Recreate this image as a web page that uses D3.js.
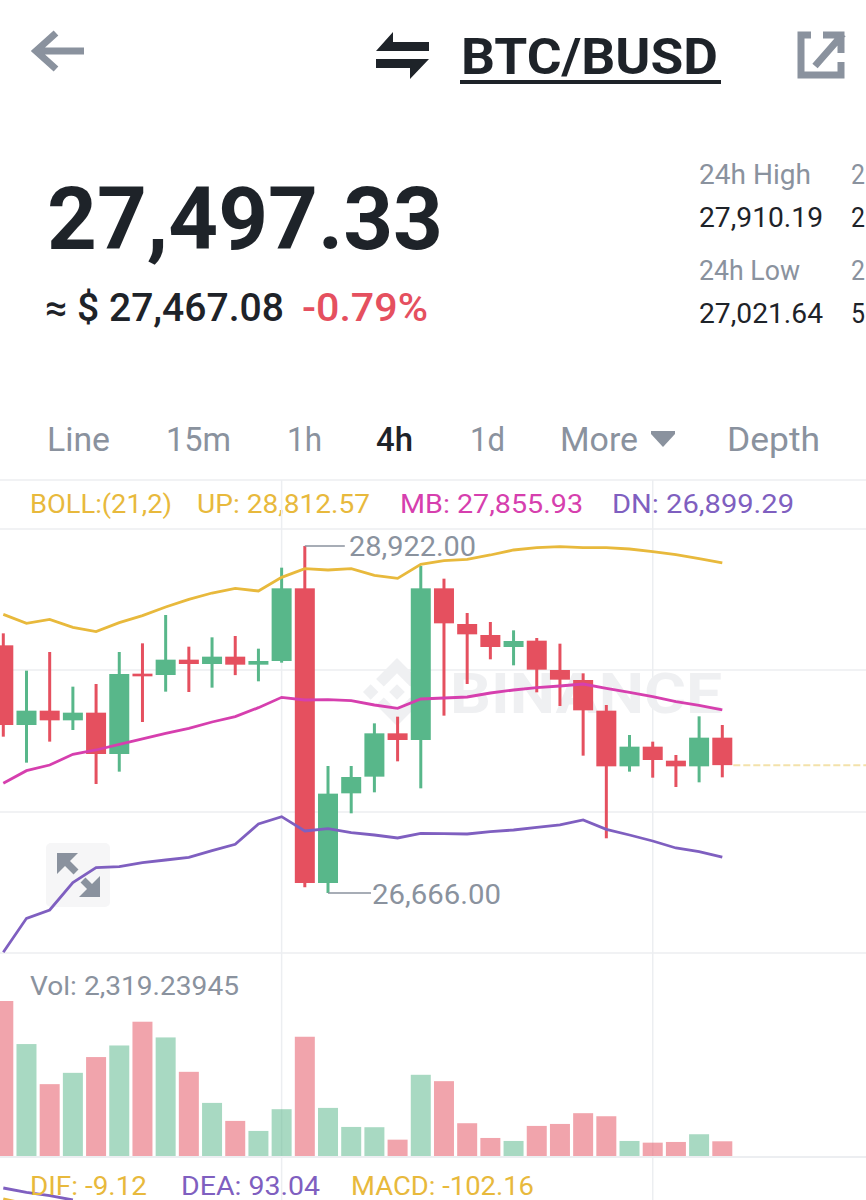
<!DOCTYPE html>
<html>
<head>
<meta charset="utf-8">
<script src="https://cdn.jsdelivr.net/npm/d3@7"></script>
<style>
  html, body { margin: 0; padding: 0; background: #fff; overflow: hidden; }
  text { font-family: Roboto, sans-serif; }
</style>
</head>
<body>
<div id="chart"></div>
<script>
// Candles (oldest first)
const opens = [28276.2, 27758.2, 27851.4, 27788.6, 27838.4, 27569.7, 28092, 28083.3, 28183, 28154.8, 28202.5, 28150.5, 28174.3, 28646.8, 26731, 27314, 27422.4, 27704.1, 27660.8, 28646.8, 28414.9, 28343.4, 28265.4, 28306.5, 28115.8, 28050.8, 27851.4, 27489.5, 27617.4, 27526.3, 27489.5, 27675.9];
const highs = [28354.2, 28111.5, 28232.9, 28007.5, 28024.8, 28232.9, 28289.2, 28473.4, 28267.5, 28328.2, 28336.9, 28254.5, 28781.1, 28922, 27491.7, 27491.7, 27769, 27812.4, 28792, 28709.6, 28486.4, 28427.9, 28373.7, 28323.9, 28287, 28094.2, 27888.3, 27693.3, 27649.9, 27563.2, 27814.6, 27758.2];
const lows = [27682.4, 27513.4, 27650.1, 27725.8, 27374.7, 27454.9, 27777.8, 27975, 27972.8, 28001, 28082.5, 28042.2, 28163.5, 26702.9, 26666, 27184, 27320.5, 27522, 27346.5, 27819, 28024.8, 28185.2, 28146.2, 27970.6, 27881.8, 27558.9, 27021.64, 27454.9, 27415.8, 27355.1, 27385.5, 27418];
const closes = [27758.2, 27851.4, 27788.6, 27838.4, 27569.7, 28089.8, 28074.7, 28183, 28154.8, 28202.5, 28150.5, 28174.3, 28646.8, 26731, 27311.9, 27420.2, 27704.1, 27660.8, 28646.8, 28419.2, 28347.7, 28265.4, 28304.4, 28118, 28053, 27853.6, 27489.5, 27617.4, 27530.7, 27489.5, 27675.9, 27497.33];
const volumes = [23040, 16680, 10760, 12430, 14760, 16470, 19980, 17660, 12580, 7990, 5330, 3850, 7060, 17760, 7250, 4440, 4400, 2560, 12140, 11200, 4990, 2810, 2370, 4590, 4880, 6470, 6020, 2370, 2120, 2220, 3360, 2319.23945];

// Bollinger bands
const bollUp = [28477.7, 28419.2, 28445, 28393.2, 28365, 28423.6, 28469, 28525.4, 28575.3, 28616.4, 28646.8, 28629.4, 28718.3, 28774.6, 28766, 28774.6, 28731.3, 28711.8, 28802.8, 28826.6, 28835.3, 28863.5, 28896, 28911.2, 28917.7, 28911.2, 28911.2, 28902.5, 28885.1, 28865.7, 28839.6, 28812.57];
const bollMid = [27379, 27461.4, 27498.2, 27567.6, 27595.7, 27632.6, 27667.3, 27704.1, 27736.6, 27777.8, 27812.4, 27870.9, 27938.1, 27920.8, 27923, 27916.4, 27888.3, 27866.6, 27927.3, 27933.8, 27940.3, 27966.3, 27985.8, 28001, 28011.8, 28024.8, 27996.7, 27970.6, 27942.5, 27909.9, 27886.1, 27855.93];
const bollDn = [26280.3, 26501.3, 26555.5, 26733.2, 26830.7, 26837.2, 26863.2, 26880.6, 26897.9, 26941.2, 26982.4, 27114.6, 27162.3, 27069.1, 27084.3, 27058.3, 27043.1, 27023.6, 27053.9, 27051.8, 27049.7, 27064.8, 27075.6, 27093, 27108.2, 27140.6, 27080, 27043.1, 27004.1, 26958.6, 26934.8, 26899.29];

// The only bit of the MACD panel that shows at the bottom edge
const macdDea = [360, 338, 322, 300];
const macdDif = [306, 280];

const gridPrices = [29032.5, 28115.8, 27192.6, 26276];
const gridCandles = [12, 28];
const lastPrice = 27497.33;
const timeframes = ["Line", "15m", "1h", "4h", "1d", "More", "Depth"];

const width = 866;
const height = 1200;
const GREEN = "#58b78a", RED = "#e5505f", GREY = "#8a929e", DARK = "#1e2329";
const GOLD = "#e8b93c", PINK = "#d63fae", PURPLE = "#7f5fc0";

const svg = d3.select("#chart").append("svg")
  .attr("width", width)
  .attr("height", height)
  .style("display", "block");

// Scales
const x = d3.scaleLinear().domain([0, 31]).range([3.3, 722.3]);
const y = d3.scaleLinear().domain([26666, 28922]).range([893, 546]);
const yVol = d3.scaleLinear().domain([0, 23040]).range([1157, 1001]);
const yMacd = d3.scaleLinear().domain([300, 360]).range([1200, 1188]);

// Text helper, w squeezes the text to the width it has in the picture
function label(txt, px, py, size, fill, weight, w) {
  const t = svg.append("text")
    .attr("x", px).attr("y", py)
    .attr("font-size", size)
    .attr("font-weight", weight || 400)
    .attr("fill", fill)
    .text(txt);
  if (w) t.attr("textLength", w).attr("lengthAdjust", "spacingAndGlyphs");
  return t;
}

// Header
svg.append("path").attr("d", "M36 51H84M56 33L36 51L56 69")
  .attr("fill", "none").attr("stroke", GREY).attr("stroke-width", 7);
svg.append("path").attr("d", "M376 51L393 32V42H429V51Z M376 59H429L410 79V68H376Z").attr("fill", DARK);
label("BTC/BUSD", 461, 74, 50, DARK, 700, 257);
svg.append("rect").attr("x", 460).attr("y", 80).attr("width", 261).attr("height", 4).attr("fill", DARK);
svg.append("path").attr("d", "M811 35H801V75H841V62M843 34L815 66M823 35H841V53")
  .attr("fill", "none").attr("stroke", GREY).attr("stroke-width", 7);

// Price block
label("27,497.33", 47, 249, 88, DARK, 700, 396);
label("≈ $ 27,467.08", 45, 321, 38, DARK, 500, 239);
label("-0.79%", 302, 321, 38, RED, 500, 126);
label("24h High", 699, 184, 28, GREY, 400, 112);
label("27,910.19", 699, 227, 27, DARK, 400, 124);
label("24h Low", 699, 280, 28, GREY, 400, 101);
label("27,021.64", 699, 323, 27, DARK, 400, 124);
label("2", 851, 184, 28, GREY, 400, 14);
label("2", 851, 227, 27, DARK, 400, 14);
label("2", 851, 280, 28, GREY, 400, 14);
label("5", 851, 323, 27, DARK, 400, 14);

// Time frame tabs
const tabX = [47, 166, 287, 376, 470, 560, 727];
const tabW = [63, 65, 35, 37, 35, 78, 93];
timeframes.forEach((t, i) => {
  label(t, tabX[i], 451, 34, t === "4h" ? DARK : GREY, t === "4h" ? 500 : 400, tabW[i]);
});
svg.append("path").attr("d", "M651 431H675V434L663 447L651 434Z").attr("fill", GREY);

// Legend
label("BOLL:(21,2)", 30, 513, 26, GOLD, 400, 142);
label("UP: 28,812.57", 197, 513, 26, GOLD, 400, 173);
label("MB: 27,855.93", 400, 513, 26, PINK, 400, 183);
label("DN: 26,899.29", 612, 513, 26, PURPLE, 400, 182);

// Grid
svg.append("line").attr("x1", 0).attr("x2", width).attr("y1", 480).attr("y2", 480)
  .attr("stroke", "#eceef1").attr("stroke-width", 1.5);
svg.append("g").selectAll("line").data(gridPrices).join("line")
  .attr("x1", 0).attr("x2", width)
  .attr("y1", d => y(d)).attr("y2", d => y(d))
  .attr("stroke", "#eceef1").attr("stroke-width", 1.5);
svg.append("g").selectAll("line").data(gridCandles).join("line")
  .attr("x1", d => x(d)).attr("x2", d => x(d))
  .attr("y1", 480).attr("y2", height)
  .attr("stroke", "#eceef1").attr("stroke-width", 1.5);

// Watermark
svg.append("path")
  .attr("transform", "translate(363,658) scale(0.537)")
  .attr("d", "M38.73 53.2l24.59-24.58 24.6 24.6 14.3-14.31L63.32 0 24.43 38.9z M0 63.31l14.3-14.31 14.31 14.31-14.31 14.3z M38.73 73.41l24.59 24.59 24.6-24.6 14.31 14.29-38.9 38.91-38.91-38.88z M98 63.31l14.3-14.31 14.31 14.3-14.31 14.32z M77.83 63.3L63.32 48.78 48.81 63.28l14.51 14.5z")
  .attr("fill", "#eff0f2");
label("BINANCE", 450, 713, 56, "#eff0f2", 700, 272);

// Expand button
svg.append("rect").attr("x", 46).attr("y", 843).attr("width", 64).attr("height", 64).attr("rx", 5).attr("fill", "#f6f6f7");
svg.append("path").attr("d", "M57 853H78L57 874Z M100 897H79L100 876Z").attr("fill", GREY);
svg.append("path").attr("d", "M63 859L76 872M83 880L94 891")
  .attr("stroke", GREY).attr("stroke-width", 7).attr("fill", "none");

// MACD lines, only their first points are on the page
const macdLine = d3.line().x((d, i) => x(i)).y(d => yMacd(d));
svg.append("path").attr("d", macdLine(macdDea)).attr("fill", "none").attr("stroke", PURPLE).attr("stroke-width", 2.8);
svg.append("path").attr("d", macdLine(macdDif)).attr("fill", "none").attr("stroke", GOLD).attr("stroke-width", 2.8);

// Price line
svg.append("line")
  .attr("x1", x(31) + 11).attr("x2", width)
  .attr("y1", y(lastPrice)).attr("y2", y(lastPrice))
  .attr("stroke", "#f3e2ab").attr("stroke-width", 2).attr("stroke-dasharray", "7 3");

// Candles
const idx = d3.range(opens.length);
const color = i => closes[i] >= opens[i] ? GREEN : RED;

svg.append("g").selectAll("line").data(idx).join("line")
  .attr("x1", i => x(i)).attr("x2", i => x(i))
  .attr("y1", i => y(highs[i])).attr("y2", i => y(lows[i]))
  .attr("stroke", color).attr("stroke-width", 3);

svg.append("g").selectAll("rect").data(idx).join("rect")
  .attr("x", i => x(i) - 10)
  .attr("y", i => y(Math.max(opens[i], closes[i])))
  .attr("width", 20)
  .attr("height", i => Math.max(2, Math.abs(y(opens[i]) - y(closes[i]))))
  .attr("fill", color);

// Bollinger lines
const line = d3.line().x((d, i) => x(i)).y(d => y(d));
[[bollUp, GOLD], [bollMid, PINK], [bollDn, PURPLE]].forEach(([vals, col]) => {
  svg.append("path").attr("d", line(vals))
    .attr("fill", "none").attr("stroke", col).attr("stroke-width", 2.8);
});

// High and low callouts
const hiX = x(13), loX = x(14);
svg.append("path").attr("d", `M${hiX} ${y(28922)}H${hiX + 40}`).attr("stroke", GREY).attr("stroke-width", 1.5);
label("28,922.00", 349, y(28922) + 10, 28, GREY, 400, 127);
svg.append("path").attr("d", `M${loX} ${y(26666)}H${loX + 43}`).attr("stroke", GREY).attr("stroke-width", 1.5);
label("26,666.00", 372, y(26666) + 11, 28, GREY, 400, 129);

// Volume
label("Vol: 2,319.23945", 30, 995, 26, GREY, 400, 209);
svg.append("g").selectAll("rect").data(idx).join("rect")
  .attr("x", i => x(i) - 10)
  .attr("y", i => yVol(volumes[i]))
  .attr("width", 20)
  .attr("height", i => yVol(0) - yVol(volumes[i]))
  .attr("fill", color)
  .attr("fill-opacity", 0.52);
svg.append("line").attr("x1", 0).attr("x2", width).attr("y1", yVol(0)).attr("y2", yVol(0))
  .attr("stroke", "#eceef1").attr("stroke-width", 2);

// MACD legend
label("DIF: -9.12", 30, 1194.5, 25, GOLD, 400, 117);
label("DEA: 93.04", 181, 1194.5, 25, PURPLE, 400, 139);
label("MACD: -102.16", 351, 1194.5, 25, GOLD, 400, 183);
</script>
</body>
</html>
